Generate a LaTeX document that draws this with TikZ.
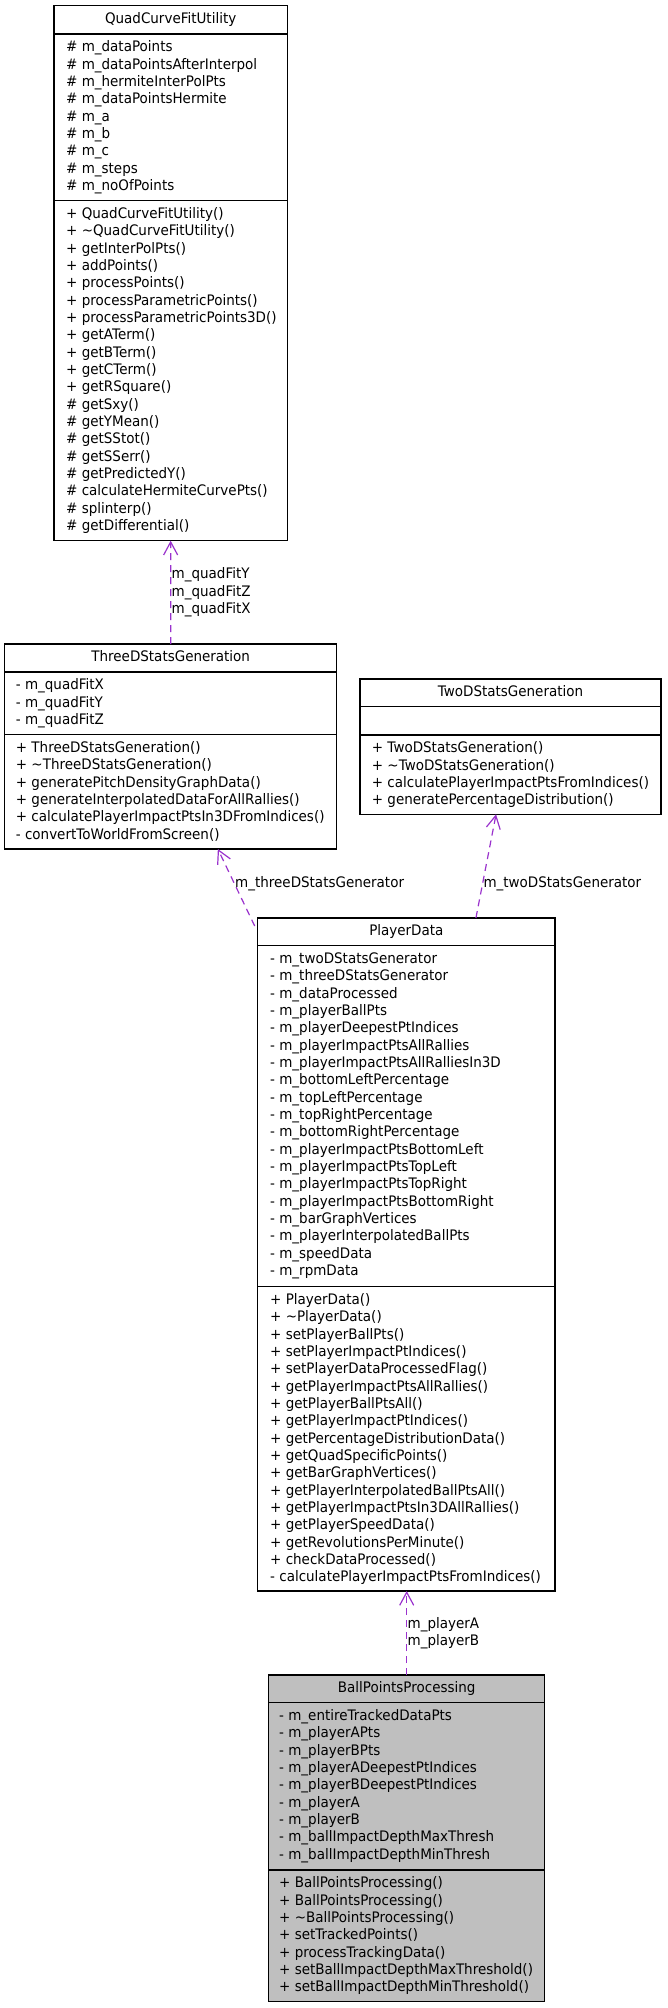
\documentclass[tikz,border=0pt]{standalone}
\usepackage{fontspec}
\setmainfont{DejaVu Sans}[FakeStretch=0.93]
\usetikzlibrary{arrows.meta,calc}
\definecolor{edgepurple}{HTML}{9A32CD}
\definecolor{ballgray}{HTML}{BFBFBF}
\newcommand\umlfont{\fontsize{14.5pt}{17.33pt}\selectfont}
\tikzset{
  box/.style={draw=black, line width=1.3pt, anchor=north west, inner sep=0pt, outer sep=0pt},
  member/.style={anchor=base west, inner sep=0pt, font=\umlfont},
  title/.style={anchor=base, inner sep=0pt, font=\umlfont},
  sepline/.style={line width=1.3pt},
  uses/.style={draw=edgepurple, line width=1.2pt, dash pattern=on 7pt off 5pt, -{Straight Barb[length=13pt,width=14pt]}},
  elabel/.style={anchor=base west, inner sep=0pt, font=\umlfont},
}
\newcommand\memberlist[4]{\foreach \t [count=\i from 0] in {#4} {\node[member] (#1-\i) at (#2,{-(#3+\i*17.33)}) {\t};}}
\begin{document}
\begin{tikzpicture}[x=1pt,y=1pt]
\useasboundingbox (0,0) rectangle (667,-2008);

% ---------- QuadCurveFitUtility ----------
\node[box, minimum width=233.3pt, minimum height=535pt] (quad) at (54,-5.7) {};
\draw[sepline] (quad.west |- 0,-34) -- (quad.east |- 0,-34);
\draw[sepline] (quad.west |- 0,-200.7) -- (quad.east |- 0,-200.7);
\node[title] (quad-t) at (quad.north |- 0,-23.3) {QuadCurveFitUtility};
\memberlist{quad-a}{66}{51.7}{{\# m\_dataPoints},{\# m\_dataPointsAfterInterpol},{\# m\_hermiteInterPolPts},{\# m\_dataPointsHermite},{\# m\_a},{\# m\_b},{\# m\_c},{\# m\_steps},{\# m\_noOfPoints}}
\memberlist{quad-m}{66}{218.4}{{+ QuadCurveFitUtility()},{+ \textasciitilde{}QuadCurveFitUtility()},{+ getInterPolPts()},{+ addPoints()},{+ processPoints()},{+ processParametricPoints()},{+ processParametricPoints3D()},{+ getATerm()},{+ getBTerm()},{+ getCTerm()},{+ getRSquare()},{\# getSxy()},{\# getYMean()},{\# getSStot()},{\# getSSerr()},{\# getPredictedY()},{\# calculateHermiteCurvePts()},{\# splinterp()},{\# getDifferential()}}

% ---------- ThreeDStatsGeneration ----------
\node[box, minimum width=332pt, minimum height=205pt] (three) at (4.7,-644) {};
\draw[sepline] (three.west |- 0,-672) -- (three.east |- 0,-672);
\draw[sepline] (three.west |- 0,-734.7) -- (three.east |- 0,-734.7);
\node[title] (three-t) at (three.north |- 0,-661.6) {ThreeDStatsGeneration};
\memberlist{three-a}{15.7}{689.7}{{- m\_quadFitX},{- m\_quadFitY},{- m\_quadFitZ}}
\memberlist{three-m}{15.7}{752.4}{{+ ThreeDStatsGeneration()},{+ \textasciitilde{}ThreeDStatsGeneration()},{+ generatePitchDensityGraphData()},{+ generateInterpolatedDataForAllRallies()},{+ calculatePlayerImpactPtsIn3DFromIndices()},{- convertToWorldFromScreen()}}

% ---------- TwoDStatsGeneration ----------
\node[box, minimum width=301pt, minimum height=135.3pt] (two) at (360,-679) {};
\draw[sepline] (two.west |- 0,-706.7) -- (two.east |- 0,-706.7);
\draw[sepline] (two.west |- 0,-735) -- (two.east |- 0,-735);
\node[title] (two-t) at (two.north |- 0,-696.6) {TwoDStatsGeneration};
\memberlist{two-m}{371.7}{752.7}{{+ TwoDStatsGeneration()},{+ \textasciitilde{}TwoDStatsGeneration()},{+ calculatePlayerImpactPtsFromIndices()},{+ generatePercentageDistribution()}}

% ---------- PlayerData ----------
\node[box, minimum width=297.3pt, minimum height=673pt] (player) at (257.7,-918) {};
\draw[sepline] (player.west |- 0,-945.7) -- (player.east |- 0,-945.7);
\draw[sepline] (player.west |- 0,-1286.7) -- (player.east |- 0,-1286.7);
\node[title] (player-t) at (player.north |- 0,-935.6) {PlayerData};
\memberlist{player-a}{270}{963.4}{{- m\_twoDStatsGenerator},{- m\_threeDStatsGenerator},{- m\_dataProcessed},{- m\_playerBallPts},{- m\_playerDeepestPtIndices},{- m\_playerImpactPtsAllRallies},{- m\_playerImpactPtsAllRalliesIn3D},{- m\_bottomLeftPercentage},{- m\_topLeftPercentage},{- m\_topRightPercentage},{- m\_bottomRightPercentage},{- m\_playerImpactPtsBottomLeft},{- m\_playerImpactPtsTopLeft},{- m\_playerImpactPtsTopRight},{- m\_playerImpactPtsBottomRight},{- m\_barGraphVertices},{- m\_playerInterpolatedBallPts},{- m\_speedData},{- m\_rpmData}}
\memberlist{player-m}{270}{1304.4}{{+ PlayerData()},{+ \textasciitilde{}PlayerData()},{+ setPlayerBallPts()},{+ setPlayerImpactPtIndices()},{+ setPlayerDataProcessedFlag()},{+ getPlayerImpactPtsAllRallies()},{+ getPlayerBallPtsAll()},{+ getPlayerImpactPtIndices()},{+ getPercentageDistributionData()},{+ getQuadSpecificPoints()},{+ getBarGraphVertices()},{+ getPlayerInterpolatedBallPtsAll()},{+ getPlayerImpactPtsIn3DAllRallies()},{+ getPlayerSpeedData()},{+ getRevolutionsPerMinute()},{+ checkDataProcessed()},{- calculatePlayerImpactPtsFromIndices()}}

% ---------- BallPointsProcessing ----------
\node[box, fill=ballgray, minimum width=276pt, minimum height=326.7pt] (ball) at (268.7,-1675) {};
\draw[sepline] (ball.west |- 0,-1702.7) -- (ball.east |- 0,-1702.7);
\draw[sepline] (ball.west |- 0,-1870) -- (ball.east |- 0,-1870);
\node[title] (ball-t) at (ball.north |- 0,-1692.6) {BallPointsProcessing};
\memberlist{ball-a}{279}{1720.4}{{- m\_entireTrackedDataPts},{- m\_playerAPts},{- m\_playerBPts},{- m\_playerADeepestPtIndices},{- m\_playerBDeepestPtIndices},{- m\_playerA},{- m\_playerB},{- m\_ballImpactDepthMaxThresh},{- m\_ballImpactDepthMinThresh}}
\memberlist{ball-m}{279}{1887.7}{{+ BallPointsProcessing()},{+ BallPointsProcessing()},{+ \textasciitilde{}BallPointsProcessing()},{+ setTrackedPoints()},{+ processTrackingData()},{+ setBallImpactDepthMaxThreshold()},{+ setBallImpactDepthMinThreshold()}}

% ---------- connectors ----------
\draw[uses] (three.north) -- (quad.south);
\node[elabel] (lqy) at (171.5,-578.6) {m\_quadFitY};
\node[elabel] (lqz) at (171.5,-596.2) {m\_quadFitZ};
\node[elabel] (lqx) at (171.5,-613.8) {m\_quadFitX};

\draw[uses] ($(player.north west)+(-3,-8)$) -- ($(three.south west)!0.642!(three.south east)$);
\node[elabel] (l3d) at (235,-887) {m\_threeDStatsGenerator};

\draw[uses] ($(player.north west)!0.734!(player.north east)$) -- ($(two.south west)!0.452!(two.south east)$);
\node[elabel] (l2d) at (483.3,-887) {m\_twoDStatsGenerator};

\draw[uses] (ball.north) -- (ball.north |- player.south);
\node[elabel] (lpa) at (407.5,-1628.3) {m\_playerA};
\node[elabel] (lpb) at (407.5,-1645.6) {m\_playerB};
\end{tikzpicture}
\end{document}
